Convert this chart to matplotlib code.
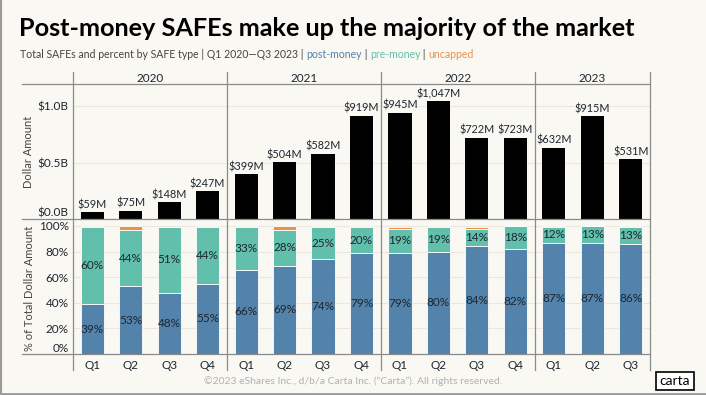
import matplotlib.pyplot as plt
from matplotlib.lines import Line2D
import numpy as np

plt.rcParams['font.family'] = ['Lato', 'DejaVu Sans']

# data
years = ["2020", "2021", "2022", "2023"]
quarters = ["Q1", "Q2", "Q3", "Q4", "Q1", "Q2", "Q3", "Q4",
            "Q1", "Q2", "Q3", "Q4", "Q1", "Q2", "Q3"]
dollars_m = [59, 75, 148, 247, 399, 504, 582, 919, 945, 1047, 722, 723, 632, 915, 531]
post_money = [39, 53, 48, 55, 66, 69, 74, 79, 79, 80, 84, 82, 87, 87, 86]
pre_money = [60, 44, 51, 44, 33, 28, 25, 20, 19, 19, 14, 18, 12, 13, 13]
uncapped = [1, 3, 0.5, 1, 1, 3, 1, 1, 1.5, 1, 1.5, 0.3, 1, 0.3, 1]
year_groups = [(0, 3), (4, 7), (8, 11), (12, 14)]

BG = "#faf8f2"
BLUE = "#5383ab"
TEAL = "#62bfab"
ORANGE = "#e8914e"
GRID = "#ebe7de"
LINE = "#8a8a8a"
TXT = "#1d2630"

W, H = 706, 395
fig = plt.figure(figsize=(W / 100, H / 100), dpi=100, facecolor=BG)

def fx(px):
    return px / W

def fy(py):
    return 1 - py / H

x0, x1 = 73, 650
top_y, base_y = 84, 219
low_top, low_base = 222.8, 354

ax1 = fig.add_axes([fx(x0), fy(base_y), fx(x1 - x0), (base_y - top_y) / H])
ax2 = fig.add_axes([fx(x0), fy(low_base), fx(x1 - x0), (low_base - low_top) / H])

x = np.arange(len(dollars_m))
for ax in (ax1, ax2):
    ax.set_facecolor("none")
    ax.set_xlim(-0.5, len(x) - 0.5)
    for s in ax.spines.values():
        s.set_visible(False)
    ax.tick_params(length=0, labelsize=8.5, colors=TXT, pad=3)

# top panel: dollar totals
ax1.set_ylim(0, 1200)
ax1.set_yticks([0, 500, 1000])
ax1.set_yticklabels(["$0.0B", "$0.5B", "$1.0B"])
ax1.get_yticklabels()[0].set_va("bottom")
ax1.set_xticks([])
ax1.grid(axis="y", color=GRID, lw=0.8)
ax1.set_axisbelow(True)
ax1.bar(x, dollars_m, width=0.6, color="black", zorder=3)
for xi, v in zip(x, dollars_m):
    ax1.text(xi, v + 18, "${:,}M".format(v), ha="center", va="bottom",
             fontsize=7.8, color=TXT)
ax1.set_ylabel("Dollar Amount", fontsize=8, color="#444444", labelpad=3)

# bottom panel: share by SAFE type
ax2.set_ylim(0, 102.5)
ax2.set_yticks([0, 20, 40, 60, 80, 100])
ax2.set_yticklabels(["0%", "20%", "40%", "60%", "80%", "100%"])
ax2.get_yticklabels()[0].set_va("bottom")
ax2.grid(axis="y", color=GRID, lw=0.8)
ax2.set_axisbelow(True)
post = np.array(post_money)
pre = np.array(pre_money)
unc = np.array(uncapped)
ax2.bar(x, post, width=0.6, color=BLUE, edgecolor="white", lw=0.6, zorder=3)
ax2.bar(x, pre, width=0.6, bottom=post, color=TEAL, edgecolor="white", lw=0.6, zorder=3)
ax2.bar(x, unc, width=0.6, bottom=post + pre, color=ORANGE, edgecolor="white", lw=0.6, zorder=3)
for xi, p, q in zip(x, post, pre):
    ax2.text(xi, p / 2, "{}%".format(p), ha="center", va="center", fontsize=8.5, color=TXT, zorder=4)
    ax2.text(xi, p + q / 2, "{}%".format(q), ha="center", va="center", fontsize=8.5, color=TXT, zorder=4)
ax2.set_xticks(x)
ax2.set_xticklabels(quarters)
ax2.tick_params(axis="x", pad=4)
ax2.set_ylabel("% of Total Dollar Amount", fontsize=8, color="#444444", labelpad=3)

# frame lines
for py in (84, 219, 354):
    fig.add_artist(Line2D([fx(22), fx(x1)], [fy(py), fy(py)], color=LINE, lw=0.9))
slot = (x1 - x0) / len(x)
for b in (-0.5, 3.5, 7.5, 11.5, 14.5):
    px = x0 + (b + 0.5) * slot
    fig.add_artist(Line2D([fx(px), fx(px)], [fy(72), fy(370)], color=LINE, lw=0.9))
for yr, (a, b) in zip(years, year_groups):
    px = x0 + ((a + b) / 2 + 0.5) * slot
    fig.text(fx(px), fy(78), yr, ha="center", va="center", fontsize=8.5, color=TXT)

# titles
fig.text(fx(19), fy(28), "Post-money SAFEs make up the majority of the market",
         fontsize=18.2, fontweight="bold", color="black", va="center")

parts = [("Total SAFEs and percent by SAFE type | Q1 2020\u2014Q3 2023 | ", "#444444"),
         ("post-money", BLUE), (" | ", "#444444"), ("pre-money", TEAL),
         (" | ", "#444444"), ("uncapped", ORANGE)]
fig.canvas.draw()
r = fig.canvas.get_renderer()
cur = fx(20)
for s, c in parts:
    tt = fig.text(cur, fy(55), s, fontsize=7.6, color=c, va="center")
    cur += tt.get_window_extent(renderer=r).width / W

# footer
fig.text(0.5, fy(381), "\u00a92023 eShares Inc., d/b/a Carta Inc. (\u201cCarta\u201d). All rights reserved.",
         ha="center", va="center", fontsize=7.5, color="#b0b0b0")
fig.text(fx(675), fy(381), "carta", ha="center", va="center", fontsize=10, color="black",
         bbox=dict(boxstyle="square,pad=0.25", fc="white", ec="black", lw=1.2))

fig.add_artist(Line2D([0, 1], [fy(393.5), fy(393.5)], color="#9a9a9a", lw=2))
fig.add_artist(Line2D([0.001, 0.001], [0, 1], color="#9a9a9a", lw=1.5))

fig.savefig("out.png", dpi=100, facecolor=BG)
